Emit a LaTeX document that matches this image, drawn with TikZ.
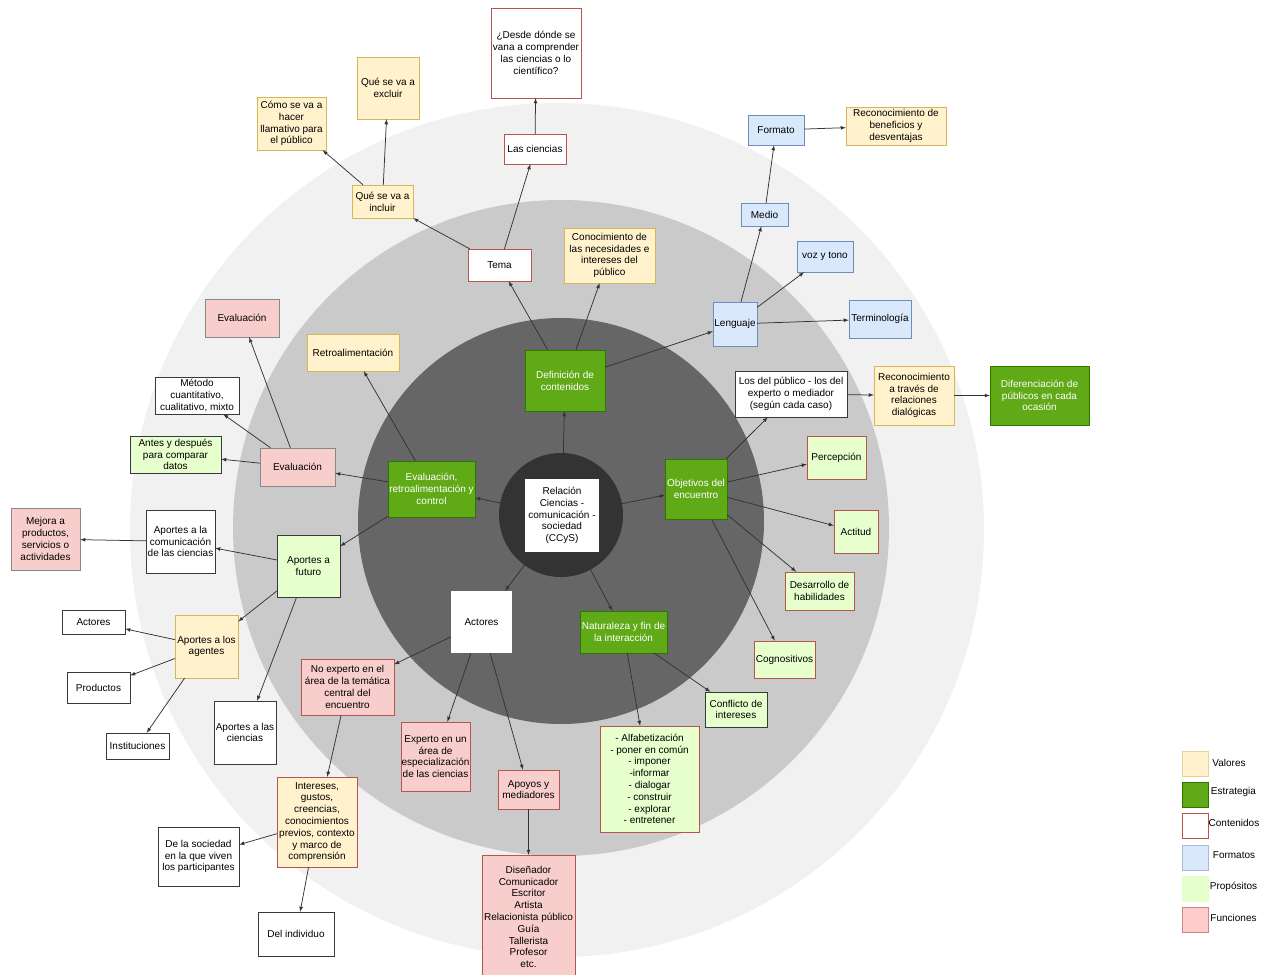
\documentclass[tikz,border=0pt]{standalone}
\usepackage{fontspec}
\setmainfont{Liberation Sans}
\usepackage{tikz}
\usetikzlibrary{arrows}
\usepackage{xcolor}

\definecolor{circA}{HTML}{F1F1F1}
\definecolor{circB}{HTML}{CACACA}
\definecolor{circC}{HTML}{666666}
\definecolor{circD}{HTML}{333333}
\definecolor{valfill}{HTML}{FFF2CC}
\definecolor{valline}{HTML}{D6B656}
\definecolor{estfill}{HTML}{60A917}
\definecolor{estline}{HTML}{2D7600}
\definecolor{conline}{HTML}{B85450}
\definecolor{fmtfill}{HTML}{DAE8FC}
\definecolor{fmtline}{HTML}{6C8EBF}
\definecolor{profill}{HTML}{E6FFCC}
\definecolor{funfill}{HTML}{F8CECC}
\definecolor{oscuro}{HTML}{36393D}

\begin{document}
\begin{tikzpicture}[x=1pt,y=-1pt,
  every node/.style={font=\fontsize{10}{11.8}\selectfont, align=center, inner sep=0.5pt},
  caja/.style 2 args={rectangle, minimum width=#1pt, minimum height=#2pt},
  valores/.style={fill=valfill, draw=valline},
  estrategia/.style={fill=estfill, draw=estline, text=white},
  contenidos/.style={fill=white, draw=conline},
  formatos/.style={fill=fmtfill, draw=fmtline},
  propositos/.style={fill=profill, draw=oscuro},
  funciones/.style={fill=funfill, draw=conline},
  blanco/.style={fill=white, draw=oscuro},
  flecha/.style={->,>=latex, draw=circD, line width=0.75pt}]

% page and background rings
\fill[white] (0,0) rectangle (1267,975);
\useasboundingbox (0,0) rectangle (1267,975);
\fill[circA] (557,530) circle (427pt);
\fill[circB] (561,528) circle (328pt);
\fill[circC] (561,521) circle (203pt);
\fill[circD] (561,515) circle (62pt);

% centre and strategies
\node[caja={74}{73}, fill=white] (ccys) at (562,515.5) {Relación\\Ciencias -\\comunicación -\\sociedad\\(CCyS)};
\node[estrategia, caja={80}{61}] (definicion) at (565,380.5) {Definición de\\contenidos};
\node[estrategia, caja={62}{60}] (objetivos) at (696,489) {Objetivos del\\encuentro};
\node[estrategia, caja={87}{42}] (naturaleza) at (623.5,632) {Naturaleza y fin de\\la interacción};
\node[estrategia, caja={87}{56}] (evalctrl) at (431.5,489) {Evaluación,\\retroalimentación y\\control};
\node[caja={61}{62}, fill=white] (actores) at (481.5,622) {Actores};

% contenidos
\node[contenidos, caja={63}{32}] (tema) at (499.5,265) {Tema};
\node[contenidos, caja={62}{30}] (ciencias) at (535,149) {Las ciencias};
\node[contenidos, caja={90}{90}] (desde) at (536,53) {¿Desde dónde se\\vana a comprender\\las ciencias o lo\\científico?};
\node[valores, caja={61}{33}] (incluir) at (382.5,201.5) {Qué se va a\\incluir};
\node[valores, caja={62}{62}] (excluir) at (388,88) {Qué se va a\\excluir};
\node[valores, caja={69}{53}] (llamativo) at (291.5,123.5) {Cómo se va a\\hacer\\llamativo para\\el público};
\node[valores, caja={91}{55}] (necesidades) at (609.5,255.5) {Conocimiento de\\las necesidades e\\intereses del\\público};
\node[formatos, caja={44}{44}] (lenguaje) at (735,324) {Lenguaje};
\node[formatos, caja={47}{23}] (medio) at (764.5,214.5) {Medio};
\node[formatos, caja={56}{30}] (formato) at (776,130) {Formato};
\node[valores, caja={100}{38}] (beneficios) at (896,126) {Reconocimiento de\\beneficios y\\desventajas};
\node[formatos, caja={56}{31}] (voz) at (825,256.5) {voz y tono};
\node[formatos, caja={62}{38}] (terminologia) at (880,319) {Terminología};

% objetivos
\node[blanco, caja={112}{46}] (publicos) at (791,394) {Los del público - los del\\experto o mediador\\(según cada caso)};
\node[valores, caja={80}{59}] (dialogicas) at (914,395.5) {Reconocimiento\\a través de\\relaciones\\dialógicas};
\node[estrategia, caja={99}{59}] (diferencia) at (1039.5,395.5) {Diferenciación de\\públicos en cada\\ocasión};
\node[propositos, draw=conline, caja={59}{43}] (percepcion) at (836.5,457.5) {Percepción};
\node[propositos, draw=conline, caja={44}{43}] (actitud) at (856,531.5) {Actitud};
\node[propositos, draw=conline, caja={69}{38}] (habilidades) at (819.5,591) {Desarrollo de\\habilidades};
\node[propositos, draw=conline, caja={61}{37}] (cognositivos) at (784.5,659.5) {Cognositivos};

% naturaleza
\node[propositos, caja={62}{35}] (conflicto) at (736,709.5) {Conflicto de\\intereses};
\node[propositos, draw=conline, caja={99}{106}] (alfabetizacion) at (649.5,779) {- Alfabetización\\- poner en común\\- imponer\\-informar\\- dialogar\\- construir\\- explorar\\- entretener};

% actores
\node[funciones, caja={93}{56}] (noexperto) at (347.5,687) {No experto en el\\área de la temática\\central del\\encuentro};
\node[funciones, caja={69}{69}] (experto) at (435.5,756.5) {Experto en un\\área de\\especialización\\de las ciencias};
\node[funciones, caja={61}{39}] (apoyos) at (528.5,789.5) {Apoyos y\\mediadores};
\node[funciones, caja={93}{124}] (roles) at (528.5,917) {Diseñador\\Comunicador\\Escritor\\Artista\\Relacionista público\\Guía\\Tallerista\\Profesor\\etc.};
\node[valores, draw=conline, caja={80}{90}] (intereses) at (317,822) {Intereses,\\gustos,\\creencias,\\conocimientos\\previos, contexto\\y marco de\\comprensión};
\node[blanco, caja={81}{59}] (sociedad) at (198.5,856.5) {De la sociedad\\en la que viven\\los participantes};
\node[blanco, caja={76}{44}] (individuo) at (296,934) {Del individuo};

% evaluacion
\node[valores, caja={92}{37}] (retro) at (353,352.5) {Retroalimentación};
\node[funciones, draw=oscuro!60, caja={75}{38}] (evaluacion) at (297.5,467) {Evaluación};
\node[funciones, draw=oscuro!60, caja={74}{38}] (evalfin) at (242,318) {Evaluación};
\node[blanco, caja={84}{37}] (metodo) at (197,395.5) {Método\\cuantitativo,\\cualitativo, mixto};
\node[propositos, caja={91}{37}] (antes) at (175.5,454.5) {Antes y después\\para comparar\\datos};
\node[propositos, caja={63}{62}] (futuro) at (308.5,566) {Aportes a\\futuro};
\node[blanco, caja={69}{63}] (apcomunic) at (180.5,541.5) {Aportes a la\\comunicación\\de las ciencias};
\node[funciones, draw=oscuro!60, caja={69}{62}] (mejora) at (45.5,539) {Mejora a\\productos,\\servicios o\\actividades};
\node[valores, caja={63}{63}] (agentes) at (206.5,646.5) {Aportes a los\\agentes};
\node[blanco, caja={63}{24}] (agactores) at (93.5,622) {Actores};
\node[blanco, caja={63}{31}] (productos) at (98.5,687.5) {Productos};
\node[blanco, caja={63}{26}] (instituciones) at (137.5,746) {Instituciones};
\node[blanco, caja={62}{63}] (apciencias) at (245,732.5) {Aportes a las\\ciencias};

% connectors
\draw[flecha] (ccys) -- (definicion);
\draw[flecha] (ccys) -- (objetivos);
\draw[flecha] (ccys) -- (naturaleza);
\draw[flecha] (ccys) -- (actores);
\draw[flecha] (ccys) -- (evalctrl);

\draw[flecha] (definicion) -- (tema);
\draw[flecha] (definicion) -- (necesidades);
\draw[flecha] (definicion) -- (lenguaje);
\draw[flecha] (tema) -- (incluir);
\draw[flecha] (tema) -- (ciencias);
\draw[flecha] (ciencias) -- (desde);
\draw[flecha] (incluir) -- (llamativo);
\draw[flecha] (incluir) -- (excluir);
\draw[flecha] (lenguaje) -- (medio);
\draw[flecha] (lenguaje) -- (voz);
\draw[flecha] (lenguaje) -- (terminologia);
\draw[flecha] (medio) -- (formato);
\draw[flecha] (formato) -- (beneficios);

\draw[flecha] (objetivos) -- (publicos);
\draw[flecha] (publicos) -- (dialogicas);
\draw[flecha] (dialogicas) -- (diferencia);
\draw[flecha] (objetivos) -- (percepcion);
\draw[flecha] (objetivos) -- (actitud);
\draw[flecha] (objetivos) -- (habilidades);
\draw[flecha] (objetivos) -- (cognositivos);

\draw[flecha] (naturaleza) -- (conflicto);
\draw[flecha] (naturaleza) -- (alfabetizacion);

\draw[flecha] (actores) -- (noexperto);
\draw[flecha] (actores) -- (experto);
\draw[flecha] (actores) -- (apoyos);
\draw[flecha] (apoyos) -- (roles);
\draw[flecha] (noexperto) -- (intereses);
\draw[flecha] (intereses) -- (sociedad);
\draw[flecha] (intereses) -- (individuo);

\draw[flecha] (evalctrl) -- (retro);
\draw[flecha] (evalctrl) -- (evaluacion);
\draw[flecha] (evalctrl) -- (futuro);
\draw[flecha] (evaluacion) -- (evalfin);
\draw[flecha] (evaluacion) -- (metodo);
\draw[flecha] (evaluacion) -- (antes);
\draw[flecha] (futuro) -- (apcomunic);
\draw[flecha] (futuro) -- (agentes);
\draw[flecha] (futuro) -- (apciencias);
\draw[flecha] (apcomunic) -- (mejora);
\draw[flecha] (agentes) -- (agactores);
\draw[flecha] (agentes) -- (productos);
\draw[flecha] (agentes) -- (instituciones);

% legend
\node[valores, draw=valline!60, caja={26}{25}] (leyval) at (1195,763.5) {};
\node[estrategia, caja={26}{25}] (leyest) at (1195,794.5) {};
\node[contenidos, caja={26}{25}] (leycon) at (1195,825.5) {};
\node[formatos, draw=fmtline!60, caja={26}{25}] (leyfmt) at (1195,857.5) {};
\node[propositos, draw=profill, caja={26}{25}] (leypro) at (1195,888.5) {};
\node[fill=red!20, draw=conline!70, caja={26}{25}] (leyfun) at (1195,919.5) {};
\node (txtval) at (1229,763) {Valores};
\node (txtest) at (1233.5,792) {Estrategia};
\node (txtcon) at (1234,823) {Contenidos};
\node (txtfmt) at (1234,855) {Formatos};
\node (txtpro) at (1233.5,887) {Propósitos};
\node (txtfun) at (1233.5,918) {Funciones};

\end{tikzpicture}
\end{document}
